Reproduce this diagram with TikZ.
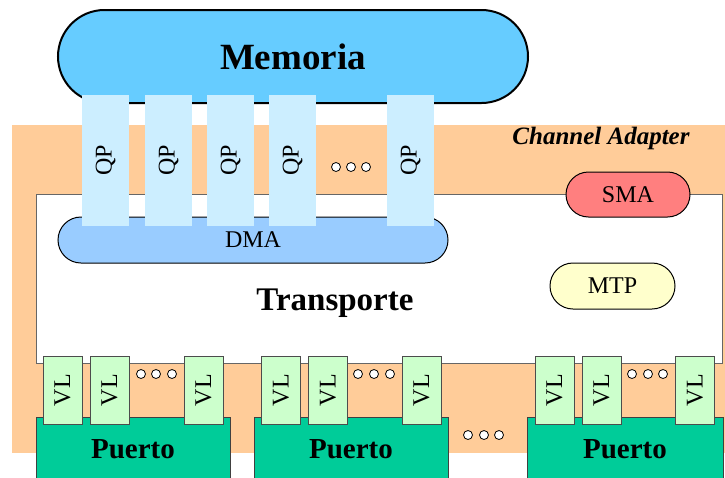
\documentclass[tikz,border=0pt]{standalone}
\usepackage{fontspec}
\setmainfont{Liberation Serif}
\usetikzlibrary{shapes.misc,positioning}

\definecolor{caorange}{HTML}{FFCC99}
\definecolor{memblue}{HTML}{66CCFF}
\definecolor{qpblue}{HTML}{CCEEFF}
\definecolor{dmablue}{HTML}{99CCFF}
\definecolor{smared}{HTML}{FF7F7F}
\definecolor{mtpyellow}{HTML}{FFFFCC}
\definecolor{vlgreen}{HTML}{CCFFCC}
\definecolor{portgreen}{HTML}{00CC99}

\begin{document}
\begin{tikzpicture}[x=1pt,y=-1pt,
    pill/.style={rounded rectangle,draw=black,line width=1pt,inner sep=0pt,font=\fontsize{24}{28}\selectfont},
    qpbox/.style={rectangle,fill=qpblue,rotate=90,minimum width=131pt,minimum height=47pt,inner sep=0pt,font=\fontsize{24}{28}\selectfont},
    vlbox/.style={rectangle,draw=black!70,fill=vlgreen,rotate=90,minimum width=68pt,minimum height=39pt,inner sep=0pt,font=\fontsize{24}{28}\selectfont},
    portbox/.style={rectangle,draw=black!75,fill=portgreen,minimum height=64pt,inner sep=0pt,font=\fontsize{29}{34}\selectfont\bfseries},
    dot/.style={circle,draw=black,fill=white,minimum size=9pt,inner sep=0pt,line width=0.8pt}]
  \clip (0,0) rectangle (725,477);

  % channel adapter and transport layer
  \node[fill=caorange,minimum width=713pt,minimum height=328pt,inner sep=0pt] (ca) at (368.5,289) {};
  \node[font=\fontsize{25}{30}\selectfont\bfseries\itshape] (catxt) at (601,138) {Channel Adapter};
  \node[draw=black!60,fill=white,minimum width=686pt,minimum height=169pt,inner sep=0pt] (transporte) at (379,278.5) {};
  \node[font=\fontsize{33}{40}\selectfont\bfseries] (transtxt) at (335,303) {Transporte};

  \node[pill,fill=dmablue,minimum width=390pt,minimum height=46pt] (dma) at (253,240) {DMA};
  \node[pill,fill=smared,minimum width=124pt,minimum height=45pt] (sma) at (628,194.5) {SMA};
  \node[pill,fill=mtpyellow,minimum width=125pt,minimum height=46pt] (mtp) at (612.5,286) {MTP};

  % memory and queue pairs
  \node[pill,fill=memblue,line width=2pt,minimum width=470pt,minimum height=93pt,font=\fontsize{37}{44}\selectfont\bfseries] (memoria) at (293,56.5) {Memoria};
  \foreach \x [count=\i] in {105.5,168.5,230.5,292.5,410.5}
    \node[qpbox] (qp\i) at (\x,160.5) {QP};
  \foreach \x [count=\i] in {336,351,366}
    \node[dot] (qpdot\i) at (\x,167) {};

  % ports with virtual lanes
  \node[portbox,minimum width=194pt] (port1) at (133,449) {Puerto};
  \node[portbox,minimum width=194pt] (port2) at (351,449) {Puerto};
  \node[portbox,minimum width=196pt] (port3) at (625,449) {Puerto};
  \foreach \x [count=\i] in {62.5,109.5,203.5,281,328,421.5,554.5,601.5,695}
    \node[vlbox] (vl\i) at (\x,390) {VL};
  \foreach \x [count=\i] in {141,156,172,358,374,390,632,648,663}
    \node[dot] (vldot\i) at (\x,374) {};
  \foreach \x [count=\i] in {468,484,499}
    \node[dot] (portdot\i) at (\x,435) {};
\end{tikzpicture}
\end{document}
